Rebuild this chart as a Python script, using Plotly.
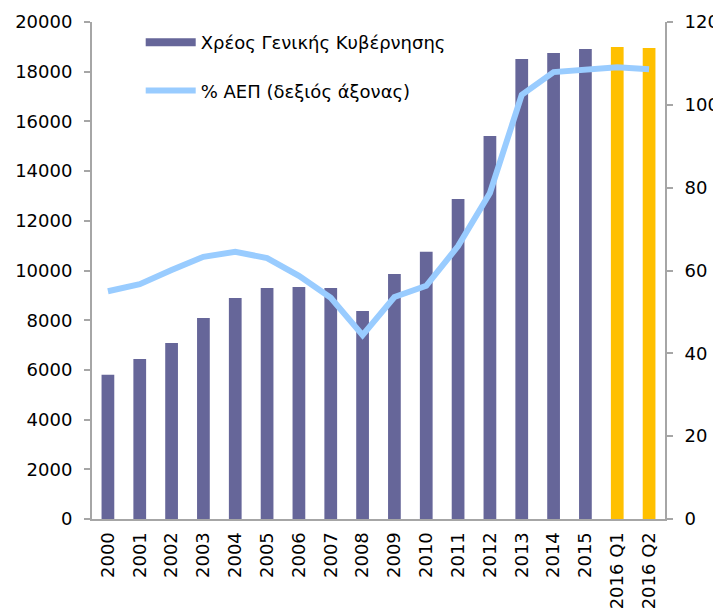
import plotly.graph_objects as go

categories = ["2000", "2001", "2002", "2003", "2004", "2005", "2006", "2007", "2008",
              "2009", "2010", "2011", "2012", "2013", "2014", "2015", "2016 Q1", "2016 Q2"]
debt = [5800, 6440, 7080, 8090, 8890, 9300, 9340, 9300, 8370,
        9860, 10750, 12880, 15410, 18510, 18750, 18910, 18990, 18950]
pct_gdp = [55.0, 56.7, 60.1, 63.3, 64.5, 63.0, 58.7, 53.4, 44.4,
           53.6, 56.3, 65.9, 78.7, 102.4, 107.9, 108.6, 109.1, 108.6]
bar_names = ["Χρέος Γενικής Κυβέρνησης"]
line_names = ["% ΑΕΠ (δεξιός άξονας)"]
left_ticks = [0, 2000, 4000, 6000, 8000, 10000, 12000, 14000, 16000, 18000, 20000]
right_ticks = [0, 20, 40, 60, 80, 100, 120]

PURPLE = "#666699"
YELLOW = "#FFC000"
LINE = "#99CCFF"
AXIS = "#A6A6A6"
FONT = "Verdana, DejaVu Sans, sans-serif"

bar_colors = [YELLOW if c.startswith("2016") else PURPLE for c in categories]

fig = go.Figure()
fig.add_trace(go.Bar(
    x=categories, y=debt, name=bar_names[0],
    marker=dict(color=bar_colors, line=dict(width=0)),
    width=0.4, yaxis="y", showlegend=False,
))
# legend proxy for the bar series (wide flat swatch as in the original)
fig.add_trace(go.Scatter(
    x=[None], y=[None], name=bar_names[0], mode="lines",
    line=dict(color=PURPLE, width=8), yaxis="y", legendgroup="a",
))
fig.add_trace(go.Scatter(
    x=categories, y=pct_gdp, name=line_names[0], mode="lines",
    line=dict(color=LINE, width=6), yaxis="y2", legendgroup="b",
))

fig.update_layout(
    width=713, height=601,
    margin=dict(l=84, r=56, t=14, b=90),
    paper_bgcolor="white", plot_bgcolor="white",
    font=dict(family=FONT, size=18, color="#000000"),
    showlegend=True,
    legend=dict(x=0.085, y=0.996, xanchor="left", yanchor="top",
                bgcolor="rgba(0,0,0,0)", font=dict(size=18),
                traceorder="grouped", tracegroupgap=22, itemwidth=50),
    xaxis=dict(
        type="category", tickangle=-90, showgrid=False,
        showline=True, linecolor=AXIS, linewidth=2,
        ticks="", ticklabelstandoff=4, automargin=False,
    ),
    yaxis=dict(
        range=[0, 20000], tickvals=left_ticks, ticktext=[str(v) for v in left_ticks],
        showgrid=False,
        showline=True, linecolor=AXIS, linewidth=2,
        ticks="outside", ticklen=6, tickcolor=AXIS, tickwidth=2,
        ticklabelstandoff=8, zeroline=False, automargin=False,
    ),
    yaxis2=dict(
        range=[0, 120], tickvals=right_ticks, ticktext=[str(v) for v in right_ticks],
        overlaying="y", side="right",
        showgrid=False, showline=True, linecolor=AXIS, linewidth=2,
        ticks="outside", ticklen=6, tickcolor=AXIS, tickwidth=2,
        ticklabelstandoff=8, zeroline=False, automargin=False,
    ),
)

fig.write_html("out.html")
